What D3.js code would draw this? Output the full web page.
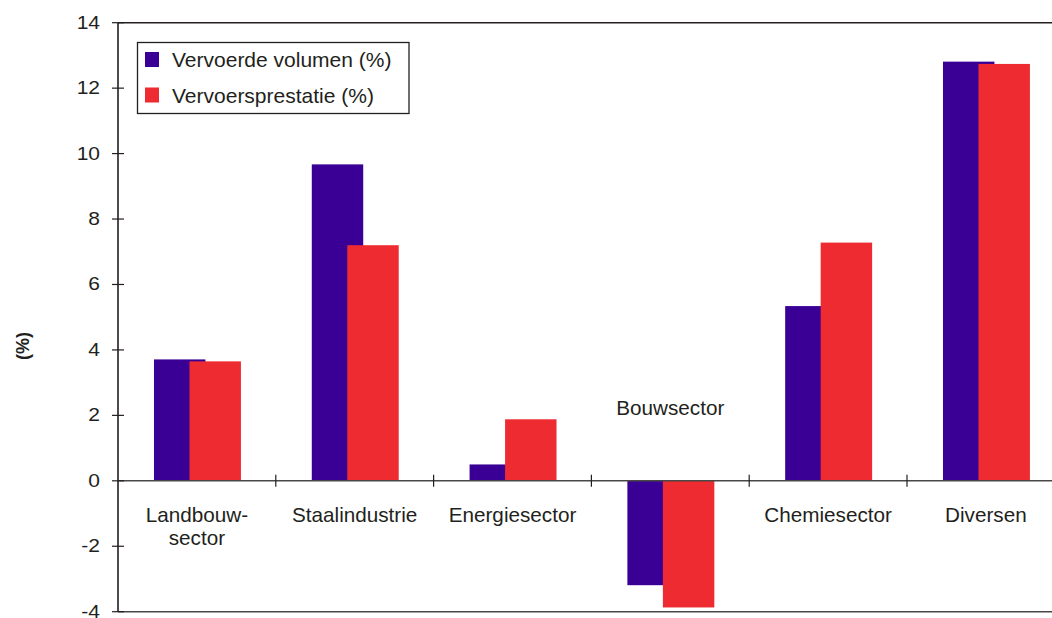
<!DOCTYPE html>
<html>
<head>
<meta charset="utf-8">
<script src="https://cdn.jsdelivr.net/npm/d3@7/dist/d3.min.js"></script>
<style>
  html, body { margin: 0; padding: 0; background: #ffffff; }
  svg { display: block; font-family: "Liberation Sans", Arial, sans-serif; }
</style>
</head>
<body>
<svg id="chart" width="1052" height="618"></svg>
<script>
// Sectors (category axis)
const categories = ["Landbouw-\nsector", "Staalindustrie", "Energiesector", "Bouwsector", "Chemiesector", "Diversen"];
// Series values, percent
const volumeValues = [3.71, 9.67, 0.50, -3.19, 5.34, 12.81];
const performanceValues = [3.65, 7.20, 1.88, -3.87, 7.28, 12.74];
const seriesNames = ["Vervoerde volumen (%)", "Vervoersprestatie (%)"];
const yTicks = [-4, -2, 0, 2, 4, 6, 8, 10, 12, 14];

const colors = ["#3a0095", "#ee2b31"];
const axisColor = "#231f20";

const svg = d3.select("#chart");
const plotLeft = 118, plotTop = 22.7, plotBottom = 611.7, bandW = 157.8;

const x = d3.scaleBand()
  .domain(categories)
  .range([plotLeft, plotLeft + bandW * categories.length])
  .padding(0);

const y = d3.scaleLinear().domain([-4, 14]).range([plotBottom, plotTop]);

// Bar geometry inside one category band (Excel-style overlapping bars)
const barFrac = 0.326, outerFrac = 0.228, stepFrac = 0.225;
const series = [volumeValues, performanceValues];

const bars = svg.append("g");
series.forEach((vals, s) => {
  bars.selectAll(null)
    .data(categories.map((c, i) => ({ c, v: vals[i] })))
    .join("rect")
    .attr("x", d => x(d.c) + x.bandwidth() * (outerFrac + s * stepFrac))
    .attr("width", x.bandwidth() * barFrac)
    .attr("y", d => y(Math.max(0, d.v)))
    .attr("height", d => Math.abs(y(d.v) - y(0)))
    .attr("fill", colors[s]);
});

// Frame: top and bottom borders, left value axis
svg.append("line").attr("x1", plotLeft).attr("x2", 1052).attr("y1", plotTop).attr("y2", plotTop)
  .attr("stroke", axisColor).attr("stroke-width", 1.6);
svg.append("line").attr("x1", plotLeft).attr("x2", 1052).attr("y1", plotBottom).attr("y2", plotBottom)
  .attr("stroke", "#4a4747").attr("stroke-width", 1.6);
svg.append("line").attr("x1", plotLeft).attr("x2", plotLeft).attr("y1", plotTop).attr("y2", plotBottom)
  .attr("stroke", axisColor).attr("stroke-width", 1.6);

// Zero line with category separators
svg.append("line").attr("x1", plotLeft).attr("x2", 1052).attr("y1", y(0)).attr("y2", y(0))
  .attr("stroke", "#4a4747").attr("stroke-width", 1.6);
svg.append("g").selectAll("line")
  .data(categories.slice(1))
  .join("line")
  .attr("x1", d => x(d)).attr("x2", d => x(d))
  .attr("y1", y(0) - 6).attr("y2", y(0) + 6)
  .attr("stroke", axisColor).attr("stroke-width", 1.2);

// Value ticks crossing the left axis
svg.append("g").selectAll("line")
  .data(yTicks)
  .join("line")
  .attr("x1", plotLeft - 6).attr("x2", plotLeft + 6)
  .attr("y1", d => y(d)).attr("y2", d => y(d))
  .attr("stroke", axisColor).attr("stroke-width", 1.2);

svg.append("g").selectAll("g")
  .data(yTicks)
  .join("g")
  .attr("transform", d => `translate(100,${y(d)}) scale(1.2,1)`)
  .append("text")
  .attr("text-anchor", "end")
  .attr("dy", "0.34em")
  .attr("font-size", 17.5)
  .attr("fill", "#231f20")
  .text(d => d);

// Axis title
svg.append("text")
  .attr("transform", "translate(29,346) rotate(-90)")
  .attr("text-anchor", "middle")
  .attr("font-size", 18)
  .attr("font-weight", "bold")
  .attr("fill", "#231f20")
  .text("(%)");

// Category labels: below the zero line, or above it for negative bars
const catLabels = svg.append("g");
categories.forEach((c, i) => {
  const lines = c.split("\n");
  const neg = volumeValues[i] < 0 && performanceValues[i] < 0;
  const t = catLabels.append("text")
    .attr("x", x(c) + x.bandwidth() / 2)
    .attr("y", neg ? y(0) - 66 : y(0) + 41)
    .attr("text-anchor", "middle")
    .attr("font-size", 20.7)
    .attr("fill", "#231f20");
  lines.forEach((ln, k) => {
    t.append("tspan")
      .attr("x", x(c) + x.bandwidth() / 2)
      .attr("dy", k === 0 ? 0 : 23.5)
      .text(ln);
  });
});

// Legend
const legend = svg.append("g");
legend.append("rect")
  .attr("x", 137.5).attr("y", 42.5).attr("width", 271.5).attr("height", 71)
  .attr("fill", "#ffffff").attr("stroke", axisColor).attr("stroke-width", 1.3);
seriesNames.forEach((name, s) => {
  legend.append("rect")
    .attr("x", 145).attr("y", 52 + s * 35.5).attr("width", 14).attr("height", 15)
    .attr("fill", colors[s]);
  legend.append("text")
    .attr("x", 172).attr("y", 67 + s * 35.5)
    .attr("font-size", 21)
    .attr("fill", "#231f20")
    .text(name);
});
</script>
</body>
</html>
